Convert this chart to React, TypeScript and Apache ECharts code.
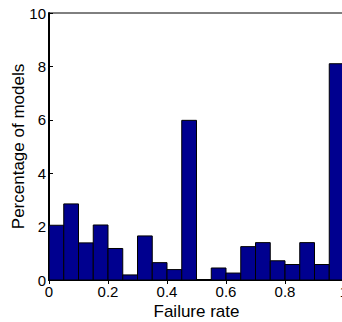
import React, { useEffect, useRef } from "react";
import * as echarts from "echarts";

const binStarts = [0, 0.05, 0.1, 0.15, 0.2, 0.25, 0.3, 0.35, 0.4, 0.45, 0.5, 0.55, 0.6, 0.65, 0.7, 0.75, 0.8, 0.85, 0.9, 0.95];
const binWidth = 0.05;
const percentages = [2.05, 2.85, 1.39, 2.06, 1.18, 0.19, 1.65, 0.65, 0.39, 5.98, 0, 0.45, 0.26, 1.25, 1.4, 0.72, 0.58, 1.4, 0.58, 8.1];
const xTicks = [0, 0.2, 0.4, 0.6, 0.8, 1];
const yTicks = [0, 2, 4, 6, 8, 10];

const FONT = "Liberation Sans, Arial, sans-serif";

export default function App() {
  const ref = useRef<HTMLDivElement>(null);
  useEffect(() => {
    if (!ref.current) return;
    const chart = echarts.init(ref.current, undefined, { renderer: "svg" });
    const data = binStarts.map((s, i) => [s, s + binWidth, percentages[i]]);
    chart.setOption({
      animation: false,
      backgroundColor: "#fff",
      grid: {
        left: 49, top: 13, right: -2, bottom: 42,
        outerBoundsMode: "none", containLabel: false,
        show: true, borderColor: "#000", borderWidth: 1,
      },
      xAxis: [
        {
          type: "value",
          min: xTicks[0],
          max: xTicks[xTicks.length - 1],
          interval: 0.2,
          name: "Failure rate",
          nameLocation: "middle",
          nameGap: 23,
          nameMoveOverlap: false,
          nameTextStyle: { color: "#000", fontSize: 17, fontFamily: FONT },
          axisLine: { show: true, onZero: false, lineStyle: { color: "#000", width: 2 } },
          axisTick: { show: true, inside: true, length: 4, lineStyle: { color: "#000" } },
          axisLabel: { color: "#000", fontSize: 15, fontFamily: FONT, margin: 4, formatter: (v: number) => String(Math.round(v * 10) / 10) },
          splitLine: { show: false },
        },
        {
          type: "value",
          position: "top",
          min: 0,
          max: 1,
          interval: 0.2,
          axisLine: { show: true, lineStyle: { color: "#000", width: 1 } },
          axisTick: { show: true, inside: true, length: 4, lineStyle: { color: "#000" } },
          axisLabel: { show: false },
          splitLine: { show: false },
        },
      ],
      yAxis: {
        type: "value",
        min: yTicks[0],
        max: yTicks[yTicks.length - 1],
        interval: 2,
        name: "Percentage of models",
        nameLocation: "middle",
        nameGap: 22,
        nameMoveOverlap: false,
        nameTextStyle: { color: "#000", fontSize: 17, fontFamily: FONT },
        axisLine: { show: true, lineStyle: { color: "#000", width: 2 } },
        axisTick: { show: true, inside: true, length: 4, lineStyle: { color: "#000" } },
        axisLabel: { color: "#000", fontSize: 15, fontFamily: FONT, margin: 3 },
        splitLine: { show: false },
      },
      series: [
        {
          type: "custom",
          xAxisIndex: 0,
          yAxisIndex: 0,
          data,
          clip: true,
          renderItem: (params: any, api: any) => {
            const x0 = api.value(0);
            const x1 = api.value(1);
            const v = api.value(2);
            const p0 = api.coord([x0, 0]);
            const p1 = api.coord([x1, v]);
            return {
              type: "rect",
              shape: { x: p0[0], y: p1[1], width: p1[0] - p0[0], height: p0[1] - p1[1] },
              style: { fill: "#00008F", stroke: "#000", lineWidth: 1 },
            };
          },
        },
      ],
    });
    return () => chart.dispose();
  }, []);
  return <div ref={ref} style={{ position: "fixed", left: 0, top: 0, width: 342, height: 322 }} />;
}
